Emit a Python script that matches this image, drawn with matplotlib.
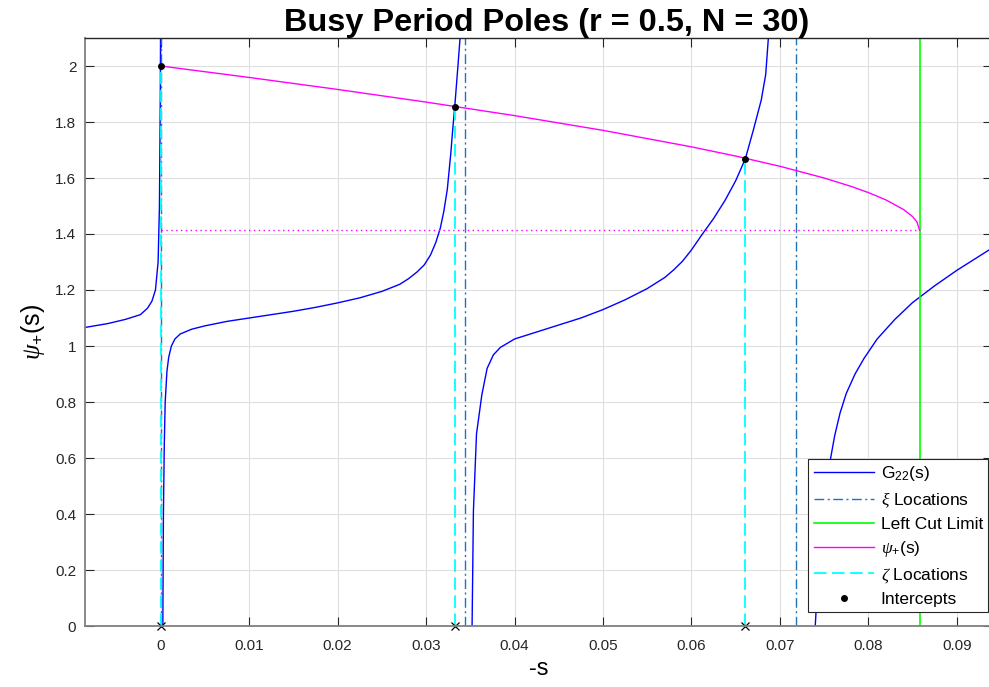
import matplotlib.pyplot as plt
import numpy as np
from matplotlib.ticker import FuncFormatter

plt.rcParams['font.family'] = ['Liberation Sans', 'DejaVu Sans']
plt.rcParams['mathtext.fontset'] = 'custom'
plt.rcParams['mathtext.rm'] = 'Liberation Sans'
plt.rcParams['mathtext.it'] = 'Liberation Serif:italic'
plt.rcParams['mathtext.bf'] = 'Liberation Sans:bold'
plt.rcParams['lines.scale_dashes'] = False

# G22(s) branches, one per interval between poles
g22_x1 = [-0.0086, -0.006, -0.004, -0.0023, -0.0015, -0.001, -0.0006, -0.0003, -0.00015, -0.00005, 0.00002]
g22_y1 = [1.066, 1.080, 1.095, 1.112, 1.135, 1.160, 1.200, 1.300, 1.500, 1.900, 2.500]

g22_x2 = [0.0002, 0.00025, 0.0003, 0.0004, 0.0005, 0.0007, 0.0009, 0.0012, 0.0016, 0.0022, 0.0035,
          0.005, 0.0075, 0.01, 0.0125, 0.015, 0.0175, 0.02, 0.0225, 0.025, 0.027, 0.028, 0.029,
          0.0298, 0.0305, 0.0311, 0.0316, 0.032, 0.0324, 0.0328, 0.0330, 0.03324, 0.0336, 0.03384, 0.0341]
g22_y2 = [-0.30, 0.10, 0.40, 0.65, 0.80, 0.91, 0.96, 1.00, 1.025, 1.043, 1.060,
          1.072, 1.088, 1.100, 1.112, 1.124, 1.138, 1.154, 1.172, 1.195, 1.220, 1.240, 1.265,
          1.290, 1.325, 1.370, 1.420, 1.480, 1.560, 1.690, 1.770, 1.855, 2.000, 2.100, 2.300]

g22_x3 = [0.0351, 0.0352, 0.03535, 0.0357, 0.0363, 0.0369, 0.0376, 0.0384, 0.040, 0.0425, 0.045,
          0.0475, 0.050, 0.0525, 0.055, 0.057, 0.058, 0.059, 0.060, 0.0612, 0.0625, 0.0638, 0.065,
          0.0661, 0.0670, 0.0679, 0.0684, 0.0687, 0.0690]
g22_y3 = [-0.30, 0.00, 0.41, 0.686, 0.825, 0.920, 0.968, 0.995, 1.025, 1.050, 1.075,
          1.100, 1.130, 1.165, 1.205, 1.245, 1.272, 1.303, 1.343, 1.398, 1.455, 1.520, 1.590,
          1.669, 1.771, 1.879, 1.970, 2.100, 2.300]

g22_x4 = [0.0738, 0.0740, 0.0743, 0.0746, 0.0750, 0.0756, 0.0762, 0.0768, 0.0775, 0.0785,
          0.0795, 0.081, 0.083, 0.085, 0.0875, 0.090, 0.0925, 0.0945]
g22_y4 = [-0.30, 0.00, 0.17, 0.30, 0.43, 0.575, 0.680, 0.760, 0.830, 0.900,
          0.955, 1.025, 1.095, 1.155, 1.215, 1.270, 1.320, 1.360]

# pole (xi) and root (zeta) locations
xi_locs = [0.0, 0.03445, 0.0718]
zeta_locs = [0.0, 0.03324, 0.0661]
zeta_vals = [2.0, 1.855, 1.669]

# psi_+(s) up to the branch point
cut_limit = 0.08579
psi_floor = 1.4142
psi_x = [0.0, 0.01, 0.02, 0.03, 0.04, 0.05, 0.06, 0.065, 0.07, 0.075, 0.078,
         0.08, 0.082, 0.084, 0.085, 0.0855, 0.08579]
psi_y = [2.0, 1.9591, 1.9163, 1.8711, 1.8228, 1.7702, 1.7113, 1.6784, 1.6419, 1.6000, 1.5706,
         1.5481, 1.5216, 1.4871, 1.4622, 1.4430, 1.4142]

xticks = np.arange(0, 0.091, 0.01)
yticks = np.arange(0, 2.01, 0.2)

W, H = 989, 687
fig = plt.figure(figsize=(W / 100, H / 100), dpi=100)
ax = fig.add_axes([84.7 / W, 61 / H, (992 - 84.7) / W, 588 / H])

dashdot = (0, (7, 2.5, 1.5, 2.5))
dashed = (0, (9, 4))

ax.plot(g22_x1, g22_y1, color='#0000FF', lw=1.0, label=r'$\mathregular{G_{22}(s)}$')
for xs, ys in [(g22_x2, g22_y2), (g22_x3, g22_y3), (g22_x4, g22_y4)]:
    ax.plot(xs, ys, color='#0000FF', lw=1.0)

for i, x in enumerate(xi_locs):
    ax.axvline(x, color='#1F74B8', lw=1.0, linestyle=dashdot,
               label=r'$\xi$ Locations' if i == 0 else None)

ax.axvline(cut_limit, color='#00FF00', lw=1.2, label='Left Cut Limit')

ax.plot(psi_x, psi_y, color='#FF00FF', lw=1.0, label=r'$\psi_{\mathregular{+}}$(s)')
ax.plot([0, cut_limit], [psi_floor, psi_floor], color='#FF00FF', lw=1.0, linestyle=(0, (1, 2.5)))

ax.vlines(zeta_locs, 0, zeta_vals, color='#00FFFF', lw=1.3, linestyle=dashed,
          label=r'$\zeta$ Locations')
ax.plot(zeta_locs, zeta_vals, '.', color='k', markersize=8, label='Intercepts')
ax.plot(zeta_locs, np.zeros(len(zeta_locs)), 'x', color='k', markersize=6,
        markeredgewidth=0.9, clip_on=False)

ax.set_xlim(-0.0086, (992 - 160.7) / 8845)
ax.set_ylim(0, 2.1)
ax.set_xticks(xticks)
ax.set_yticks(yticks)
fmt = FuncFormatter(lambda v, p: '%g' % round(v, 4))
ax.xaxis.set_major_formatter(fmt)
ax.yaxis.set_major_formatter(fmt)
ax.tick_params(direction='in', length=6.5, width=0.8, colors='#262626', labelsize=11,
               top=True, right=True)
ax.tick_params(axis='x', pad=9)
ax.tick_params(axis='y', pad=6)
ax.grid(True, color='#dfdfdf', lw=0.8)
ax.set_axisbelow(True)
for side in ['left', 'bottom']:
    ax.spines[side].set_color('#808080')
    ax.spines[side].set_linewidth(1.3)
for side in ['top', 'right']:
    ax.spines[side].set_color('#262626')
    ax.spines[side].set_linewidth(1.0)

ax.set_title('Busy Period Poles (r = 0.5, N = 30)', fontsize=23.4, fontweight='bold', pad=5,
             x=0.5095)
ax.set_xlabel('-s', fontsize=17, labelpad=4)
ax.set_ylabel(r'$\psi_{\mathregular{+}}$(s)', fontsize=18, labelpad=6)

leg = ax.legend(loc='lower right', bbox_to_anchor=(1 - 4 / 907, 14 / 588), borderaxespad=0,
                fontsize=12.5, handlelength=3.5, handletextpad=0.35, labelspacing=0.4,
                fancybox=False, framealpha=1, edgecolor='#262626', borderpad=0.3)
leg.get_frame().set_linewidth(0.8)

fig.savefig('out.png', dpi=100)
